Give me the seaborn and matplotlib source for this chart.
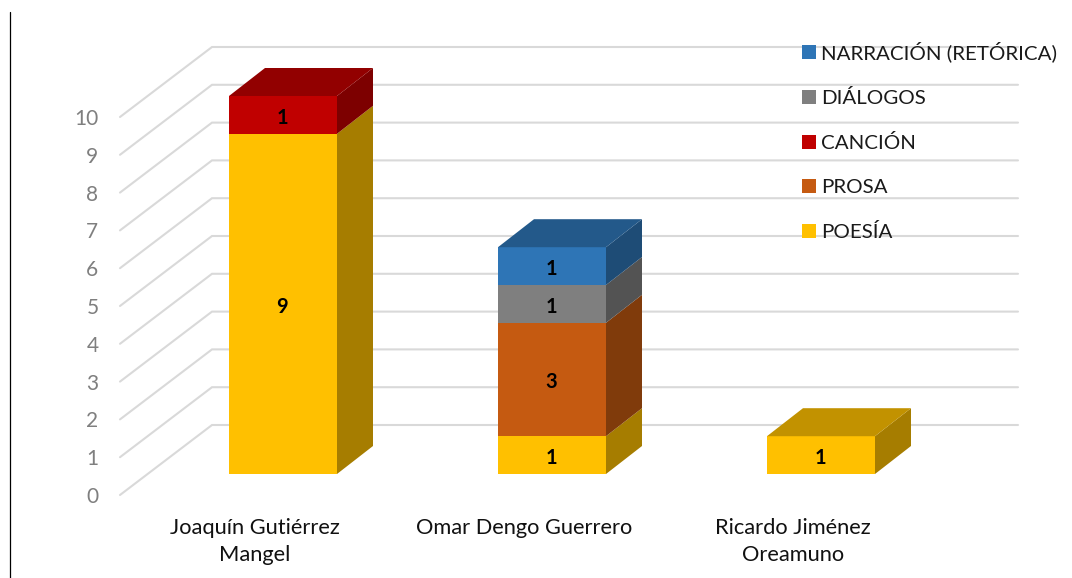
import matplotlib
matplotlib.use("Agg")
import matplotlib.pyplot as plt
from matplotlib.colors import to_rgb
from matplotlib.lines import Line2D
from matplotlib.patches import Patch
import numpy as np
import seaborn as sns

# data
autores = ["Joaquín Gutiérrez\nMangel", "Omar Dengo Guerrero", "Ricardo Jiménez\nOreamuno"]
series = ["POESÍA", "PROSA", "CANCIÓN", "DIÁLOGOS", "NARRACIÓN (RETÓRICA)"]
poesia = [9, 1, 1]
prosa = [0, 3, 0]
cancion = [1, 0, 0]
dialogos = [0, 1, 0]
narracion = [0, 1, 0]
colores = ["#FFC000", "#C55A11", "#C00000", "#7F7F7F", "#2E75B6"]
ticks = list(range(0, 11))

W, H = 1072, 578
PX_X = 269.0    # pixels per category
PX_Y = 37.8     # pixels per unit
X0, Y0 = 283, 474  # pixel position of first category / bar base
AX_LEFT, AX_BOTTOM = 104, 510


def dark(color, f):
    return tuple(c * f for c in to_rgb(color))


def xd(px):
    return (px - X0) / PX_X


sns.set_style("white")
plt.rcParams["font.family"] = ["Lato", "DejaVu Sans"]

fig = plt.figure(figsize=(W / 100, H / 100), dpi=100)
ax = fig.add_axes([AX_LEFT / W, (H - AX_BOTTOM) / H, (W - AX_LEFT) / W, AX_BOTTOM / H])

# ---------------------------------------------------------
# stacked front faces, then sides and tops for the 3D look
# ---------------------------------------------------------
valores = [poesia, prosa, cancion, dialogos, narracion]
ancho = 108 / PX_X
dx, dy = 36 / PX_X, 28 / PX_Y
base = np.zeros(len(autores))

for nombre, vals, col in zip(series, valores, colores):
    sns.barplot(x=autores, y=vals, bottom=base, color=col, saturation=1, width=ancho,
                errorbar=None, linewidth=0, zorder=3, ax=ax)
    for i, v in enumerate(vals):
        if v == 0:
            continue
        r = i + ancho / 2
        ax.fill([r, r + dx, r + dx, r],
                [base[i], base[i] + dy, base[i] + v + dy, base[i] + v],
                color=dark(col, 0.65), lw=0, zorder=3)
        ax.annotate(str(v), (i, base[i] + v / 2), xytext=(-0.5, -2), textcoords="offset points",
                    ha="center", va="center", fontsize=14.5, fontweight="bold",
                    color="black", zorder=5)
    base = base + np.array(vals)

# top caps use the colour of the last non empty segment
for i in range(len(autores)):
    ultimo = [c for c, vals in zip(colores, valores) if vals[i] > 0][-1]
    l, r = i - ancho / 2, i + ancho / 2
    t = base[i]
    ax.fill([l, l + dx, r + dx, r], [t, t + dy, t + dy, t],
            color=dark(ultimo, 0.76), lw=0, zorder=3)

# ---------------------------------------------------------
# gridlines: floor diagonal plus back wall
# ---------------------------------------------------------
frente = (Y0 - 495) / PX_Y
fondo = (Y0 - 425) / PX_Y
for v in ticks:
    ax.plot([xd(120), xd(212), xd(1018)], [v + frente, v + fondo, v + fondo],
            color="#D9D9D9", lw=1.5, zorder=1, solid_joinstyle="miter")

ax.set_xlim(xd(AX_LEFT), xd(W))
ax.set_ylim((Y0 - AX_BOTTOM) / PX_Y, Y0 / PX_Y)
# category labels sit under the floor, left of the bar centres
ax.set_xticks([i - 28 / PX_X for i in range(len(autores))])
ax.set_xticklabels(autores, linespacing=1.44)
ax.set_yticks([v + frente for v in ticks])
ax.set_yticklabels([str(v) for v in ticks])
ax.tick_params(axis="y", length=0, pad=4, labelsize=15, labelcolor="#7F7F7F")
ax.tick_params(axis="x", length=0, pad=6, labelsize=15.75, labelcolor="#111111")
ax.set_xlabel("")
ax.set_ylabel("")
sns.despine(ax=ax, left=True, bottom=True)

handles = [Patch(facecolor=c, edgecolor="none") for c in colores][::-1]
leg = ax.legend(handles, series[::-1], loc="upper left",
                bbox_to_anchor=(802 / W, 1 - 41.5 / H), bbox_transform=fig.transFigure,
                frameon=False, fontsize=14.75, labelspacing=1.31, handlelength=0.7,
                handleheight=0.7, handletextpad=0.25, borderpad=0, borderaxespad=0)
leg.set_zorder(6)
for t in leg.get_texts():
    t.set_color("#1A1A1A")

fig.add_artist(Line2D([10.3 / W, 10.3 / W], [0, 1 - 12 / H], color="black", lw=0.9))

fig.savefig("out.png", dpi=100)
